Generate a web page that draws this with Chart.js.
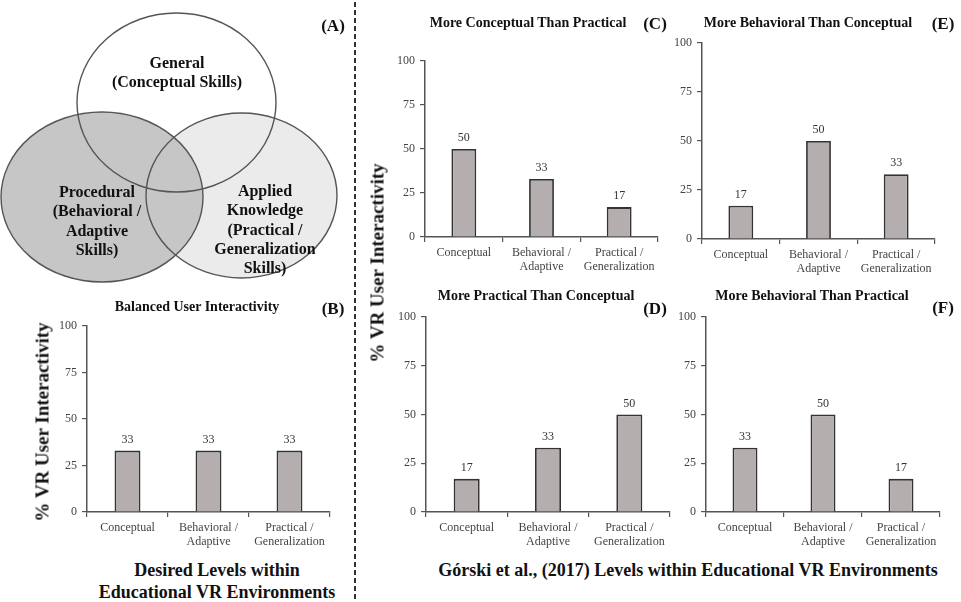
<!DOCTYPE html>
<html><head><meta charset="utf-8">
<script src="https://cdn.jsdelivr.net/npm/chart.js@4.4.0/dist/chart.umd.min.js"></script>
<style>
html,body{margin:0;padding:0;background:#fff;}
#root{position:relative;width:961px;height:602px;overflow:hidden;font-family:"Liberation Serif","Times New Roman",serif;}
.box{position:absolute;}
.t{position:absolute;transform:translate(-50%,-50%);white-space:nowrap;font-weight:bold;color:#111;line-height:1;text-align:center;}
.rot{transform:translate(-50%,-50%) rotate(-90deg);}
#dash{position:absolute;left:354px;top:2px;width:2px;height:600px;background:repeating-linear-gradient(to bottom,#333 0 5px,transparent 5px 8px);}
</style></head>
<body><div id="root"><div id="dash"></div></div>
<script>
// ---- data ----
const categories = [["Conceptual"], ["Behavioral /", "Adaptive"], ["Practical /", "Generalization"]];
const yTicks = [0, 25, 50, 75, 100];
const balanced = [33, 33, 33];
const moreConceptualThanPractical = [50, 33, 17];
const morePracticalThanConceptual = [17, 33, 50];
const moreBehavioralThanConceptual = [17, 50, 33];
const moreBehavioralThanPractical = [33, 50, 17];
const vennLabels = [["General", "(Conceptual Skills)"], ["Procedural", "(Behavioral /", "Adaptive", "Skills)"], ["Applied", "Knowledge", "(Practical /", "Generalization", "Skills)"]];

const FAM = '"Liberation Serif","Times New Roman",serif';
const root = document.getElementById('root');

function addText(txt, x, y, size, extra) {
  const d = document.createElement('div');
  d.className = 't' + (extra && extra.rot ? ' rot' : '');
  d.style.left = x + 'px'; d.style.top = y + 'px'; d.style.fontSize = size + 'px';
  if (extra && extra.lh) d.style.lineHeight = extra.lh + 'px';
  d.innerHTML = txt;
  root.appendChild(d);
}

const valueLabels = {
  id: 'valueLabels',
  afterDatasetsDraw(chart) {
    const ctx = chart.ctx, meta = chart.getDatasetMeta(0), data = chart.data.datasets[0].data;
    ctx.save();
    ctx.font = '12px ' + FAM; ctx.fillStyle = '#333'; ctx.textAlign = 'center'; ctx.textBaseline = 'bottom';
    meta.data.forEach((bar, i) => ctx.fillText(String(data[i]), bar.x, bar.y - 5));
    ctx.restore();
  }
};

const YW = 40, XH = 44, PT = 14, PR = 6;
function barChart(values, area) {
  const div = document.createElement('div');
  div.className = 'box';
  const left = area.l - YW, top = area.t - PT;
  const w = area.r + PR - left, h = area.b + XH - top;
  div.style.cssText = `left:${left}px;top:${top}px;width:${w}px;height:${h}px`;
  const c = document.createElement('canvas');
  div.appendChild(c); root.appendChild(div);
  new Chart(c, {
    type: 'bar',
    data: { labels: categories, datasets: [{ data: values, backgroundColor: '#b4aeaf', borderColor: '#333', borderWidth: 1.8, barPercentage: 0.32, categoryPercentage: 1 }] },
    options: {
      responsive: true, maintainAspectRatio: false, animation: false,
      layout: { padding: { top: PT, right: PR, left: 0, bottom: 0 } },
      plugins: { legend: { display: false }, tooltip: { enabled: false } },
      scales: {
        x: {
          offset: true,
          grid: { offset: true, drawOnChartArea: false, drawTicks: true, tickLength: 5, color: '#555', lineWidth: 1.2 },
          border: { display: true, color: '#555', width: 1.5 },
          ticks: { color: '#444', font: { family: FAM, size: 12, lineHeight: 1.15 }, padding: 4, maxRotation: 0, autoSkip: false },
          afterFit(s) { s.height = XH; }
        },
        y: {
          min: 0, max: 100,
          afterBuildTicks(s) { s.ticks = yTicks.map(v => ({ value: v })); },
          grid: { drawOnChartArea: false, drawTicks: true, tickLength: 5, color: '#555', lineWidth: 1.2 },
          border: { display: true, color: '#555', width: 1.5 },
          ticks: { color: '#444', font: { family: FAM, size: 12 }, padding: 5 },
          afterFit(s) { s.width = YW; }
        }
      }
    },
    plugins: [valueLabels]
  });
}

// ---- Venn diagram (A) ----
const vennPlugin = {
  id: 'venn',
  beforeDatasetsDraw(chart) {
    const ctx = chart.ctx, xs = chart.scales.x, ys = chart.scales.y;
    const E = [
      { cx: 176.5, cy: 102.5, rx: 99.5, ry: 89.5, fill: '#ffffff' },
      { cx: 241.5, cy: 195.5, rx: 95.5, ry: 82.5, fill: '#ebebeb' },
      { cx: 102, cy: 197, rx: 101, ry: 85, fill: '#c6c6c6' }
    ];
    const path = e => {
      const x = xs.getPixelForValue(e.cx), y = ys.getPixelForValue(e.cy);
      const rx = Math.abs(xs.getPixelForValue(e.cx + e.rx) - x), ry = Math.abs(ys.getPixelForValue(e.cy + e.ry) - y);
      ctx.beginPath(); ctx.ellipse(x, y, rx, ry, 0, 0, Math.PI * 2);
    };
    ctx.save();
    E.forEach(e => { path(e); ctx.fillStyle = e.fill; ctx.fill(); });
    ctx.strokeStyle = '#555'; ctx.lineWidth = 1.4;
    E.forEach(e => { path(e); ctx.stroke(); });
    ctx.restore();
  }
};
(function () {
  const div = document.createElement('div');
  div.className = 'box';
  div.style.cssText = 'left:0;top:0;width:352px;height:290px';
  const c = document.createElement('canvas');
  div.appendChild(c); root.appendChild(div);
  new Chart(c, {
    type: 'scatter',
    data: { datasets: [{ data: [] }] },
    options: {
      responsive: true, maintainAspectRatio: false, animation: false,
      layout: { padding: 0 },
      plugins: { legend: { display: false }, tooltip: { enabled: false } },
      scales: {
        x: { type: 'linear', min: 0, max: 352, display: false },
        y: { type: 'linear', min: 0, max: 290, reverse: true, display: false }
      }
    },
    plugins: [vennPlugin]
  });
})();
addText(vennLabels[0].join('<br>'), 177, 72, 16, { lh: 19.3 });
addText(vennLabels[1].join('<br>'), 97, 221, 16, { lh: 19.3 });
addText(vennLabels[2].join('<br>'), 265, 229, 16, { lh: 19.3 });
addText('(A)', 333, 25, 17);

// ---- bar charts ----
barChart(balanced, { l: 87, r: 330, t: 326, b: 512 });
barChart(moreConceptualThanPractical, { l: 425, r: 658, t: 61, b: 237 });
barChart(morePracticalThanConceptual, { l: 426, r: 670, t: 317, b: 512 });
barChart(moreBehavioralThanConceptual, { l: 702, r: 935, t: 43, b: 239 });
barChart(moreBehavioralThanPractical, { l: 706, r: 940, t: 317, b: 512 });

// ---- titles and labels ----
addText('Balanced User Interactivity', 197, 307, 14);
addText('(B)', 333, 308, 17);
addText('More Conceptual Than Practical', 528, 23, 14);
addText('(C)', 655, 23, 17);
addText('More Behavioral Than Conceptual', 808, 23, 14);
addText('(E)', 943, 23, 17);
addText('More Practical Than Conceptual', 536, 296, 14);
addText('(D)', 655, 308, 17);
addText('More Behavioral Than Practical', 812, 296, 14);
addText('(F)', 943, 307, 17);
addText('% VR User Interactivity', 42, 422, 19, { rot: true });
addText('% VR User Interactivity', 377, 263, 19, { rot: true });
addText('Desired Levels within', 217, 570, 18);
addText('Educational VR Environments', 217, 592, 18);
addText('Górski et al., (2017) Levels within Educational VR Environments', 688, 570, 18);
</script>
</body></html>
